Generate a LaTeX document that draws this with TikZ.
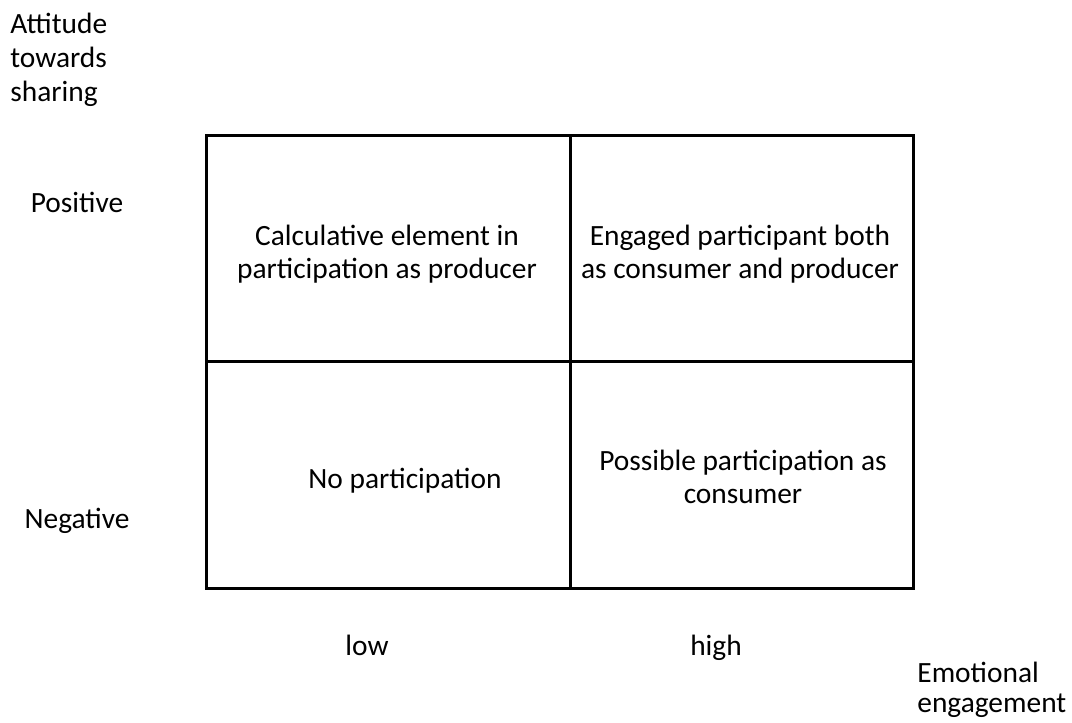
\documentclass[tikz,border=0pt]{standalone}
\usepackage{fontspec}
\setmainfont{Carlito}
\usepackage{tikz}
\usetikzlibrary{positioning}

\begin{document}
\begin{tikzpicture}[x=0.5pt,y=-0.5pt,
  every node/.style={font=\fontsize{14.7}{16.5}\selectfont},
  cell/.style={align=center,inner sep=0pt},
  lbl/.style={anchor=west,align=left,inner sep=0pt},
  grid/.style={line width=1.5pt}]
\useasboundingbox (0,0) rectangle (1072,723);
% the matrix
\coordinate (tl) at (206.5,135.5);
\coordinate (br) at (913,588);
\coordinate (mid) at (570,361);
\draw[grid] (tl) rectangle (br);
\draw[grid] (mid|-tl)--(mid|-br) (tl|-mid)--(br|-mid);
% axis labels
\node[lbl,font=\fontsize{14.7}{17}\selectfont] (att) at (10,59.5) {Attitude\\towards\\sharing};
\node[cell,anchor=base] (pos) at (77,212) {Positive};
\node[cell,anchor=base] (neg) at (77,528) {Negative};
\node[cell,anchor=base] (low) at (367,655) {low};
\node[cell,anchor=base] (high) at (716,655) {high};
\node[lbl,font=\fontsize{14.7}{15}\selectfont] (emo) at (917,690) {Emotional\\engagement};
% cells
\node[cell] (calc) at (387,254.5) {Calculative element in\\participation as producer};
\node[cell] (eng) at (740,254.5) {Engaged participant both\\as consumer and producer};
\node[cell,anchor=base] (nopart) at (405,488) {No participation};
\node[cell] (poss) at (743,477) {Possible participation as\\consumer};
\end{tikzpicture}
\end{document}
